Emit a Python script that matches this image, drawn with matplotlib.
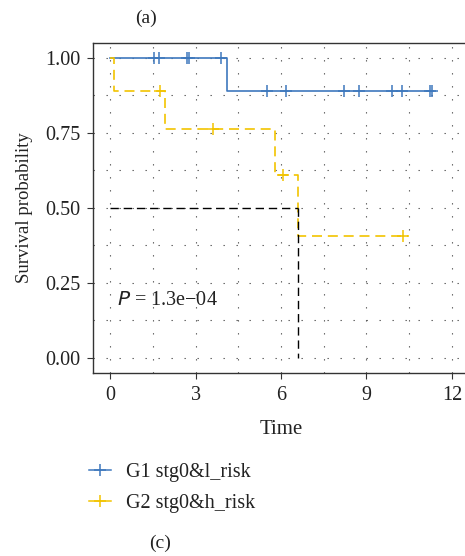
import numpy as np
import matplotlib.pyplot as plt
from matplotlib.lines import Line2D

plt.rcParams['font.family'] = ['Liberation Serif', 'DejaVu Serif']

#################################################
# data

g1_time = [0, 4.12, 11.35]
g1_surv = [1.0, 0.889, 0.889]
g1_cens_time = [1.55, 1.72, 2.71, 2.76, 3.9, 5.5, 6.18, 8.21, 8.75, 9.88, 10.26, 11.23, 11.3]
g1_cens_surv = [1.0, 1.0, 1.0, 1.0, 1.0, 0.889, 0.889, 0.889, 0.889, 0.889, 0.889, 0.889, 0.889]

g2_time = [0, 0.15, 1.94, 5.8, 6.61, 10.47]
g2_surv = [1.0, 0.889, 0.762, 0.61, 0.406, 0.406]
g2_cens_time = [1.75, 3.6, 6.08, 10.29]
g2_cens_surv = [0.889, 0.762, 0.61, 0.406]

median_time = 6.61
p_text = "= 1.3e\u221204"
group_labels = ["G1 stg0&l_risk", "G2 stg0&h_risk"]

xticks = [0, 3, 6, 9, 12]
yticks = [0.0, 0.25, 0.5, 0.75, 1.0]

#################################################

blue = "#3E78BD"
yellow = "#F2C300"
txt = "#222222"

fig = plt.figure(figsize=(4.65, 5.56), dpi=100)
ax = fig.add_axes([93 / 465, 1 - 373 / 556, 376 / 465, 330.5 / 556])

# dotted grid on major and minor positions
for xv in np.arange(0, 12.01, 1.5):
    ax.axvline(xv, color="#555555", lw=0.8, dashes=(1.2, 10.5), zorder=0)
for yv in np.arange(0, 1.001, 0.125):
    ax.axhline(yv, color="#555555", lw=0.8, dashes=(1.2, 10.5), zorder=0)

ax.step(g1_time, g1_surv, where="post", color=blue, lw=1.2)
ax.plot(g1_cens_time, g1_cens_surv, ls="none", marker="+", ms=8, mew=1.1, color=blue)

ax.step(g2_time, g2_surv, where="post", color=yellow, lw=1.2, dashes=(6, 3.5))
ax.plot(g2_cens_time, g2_cens_surv, ls="none", marker="+", ms=8, mew=1.1, color=yellow)

# median survival line
ax.plot([0, median_time], [0.5, 0.5], color="black", lw=1, dashes=(6, 3.5))
ax.plot([median_time, median_time], [0.5, 0], color="black", lw=1, dashes=(6, 3.5))

ax.text(0.23, 0.19, "$P$ " + p_text, fontsize=14.5, va="center", ha="left", color=txt)

ax.set_xlim(-0.6, 12.6)
ax.set_ylim(-0.05, 1.05)
ax.set_xticks(xticks)
ax.set_yticks(yticks)
ax.set_yticklabels(["0.00", "0.25", "0.50", "0.75", "1.00"])
ax.tick_params(labelsize=14.5, length=4.5, width=0.8, pad=4.5, color="#333333", labelcolor=txt)
ax.set_xlabel("Time", fontsize=15, color=txt, labelpad=11)
ax.set_ylabel("Survival probability", fontsize=13.5, color=txt, labelpad=9)
for s in ax.spines.values():
    s.set_linewidth(1.0)
    s.set_color("#333333")

handles = [Line2D([], [], color=blue, marker="+", ms=8, mew=1.1, lw=1.1),
           Line2D([], [], color=yellow, marker="+", ms=8, mew=1.1, lw=1.1)]
fig.legend(handles, group_labels, loc="upper left", bbox_to_anchor=(89 / 465, 1 - 463 / 556),
           frameon=False, fontsize=14.5, handlelength=1.1, handletextpad=0.75,
           borderpad=0, borderaxespad=0, labelspacing=0.6, labelcolor=txt)

fig.text(146 / 465, 1 - 18 / 556, "(a)", fontsize=14, ha="center", va="center", color=txt)
fig.text(160 / 465, 1 - 543 / 556, "(c)", fontsize=14, ha="center", va="center", color=txt)

plt.savefig("out.png", dpi=100)
